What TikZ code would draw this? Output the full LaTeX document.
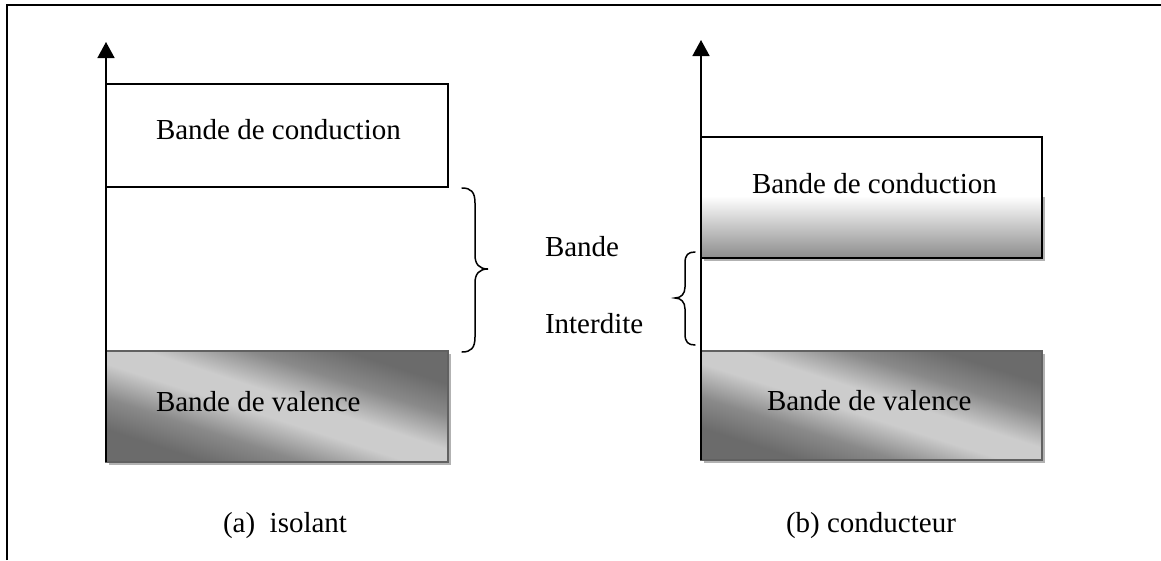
\documentclass[tikz,border=0pt]{standalone}
\usepackage{fontspec}
\setmainfont{Liberation Serif}
\usetikzlibrary{arrows.meta}
\pgfdeclareverticalshading{valsh}{100bp}{color(0bp)=(black!58); color(25bp)=(black!58); color(35bp)=(black!46); color(46bp)=(black!20); color(54bp)=(black!20); color(65bp)=(black!46); color(75bp)=(black!58); color(100bp)=(black!58)}
\begin{document}
\begin{tikzpicture}[x=1pt,y=-1pt,
  lbl/.style={font=\fontsize{29}{34}\selectfont, anchor=base west, inner sep=0pt, outer sep=0pt},
  frameline/.style={line width=1.6pt},
  axisarrow/.style={line width=1.6pt, -{Triangle[width=17pt,length=16pt]}},
  shadowbox/.style={fill=black!30, draw=none},
  whitebox/.style={draw=black, line width=1.6pt, fill=white, inner sep=0pt, outer sep=0pt},
  openbox/.style={draw=black, line width=1.6pt, inner sep=0pt, outer sep=0pt},
  valframe/.style={draw=black!62, line width=1.6pt, inner sep=0pt, outer sep=0pt},
  valshade/.style={shading=valsh, shading angle=-45},
  bracepath/.style={line width=1.5pt, line cap=round},
]
\useasboundingbox (0,0) rectangle (1161,560);
% outer frame
\draw[frameline] (7,560) -- (7,5) -- (1161,5);

% ---------- (a) isolant ----------
\node[whitebox, minimum width=342pt, minimum height=103pt] (cbA) at (277,135.5) {};
\fill[shadowbox] (109,354) rectangle (451,465);
\begin{scope}[transform canvas={shift={(277,406.5)}, xscale=3.081}]
  \shade[valshade] (-55.5,-55.5) rectangle (55.5,55.5);
\end{scope}
\node[valframe, minimum width=342pt, minimum height=111pt] (vbA) at (277,406.5) {};
\coordinate (axA0) at (106,462);
\coordinate (axA1) at (106,42);
\draw[axisarrow] (axA0) -- (axA1);
\node[lbl] (tcA) at (156,139) {Bande de conduction};
\node[lbl] (tvA) at (156,411) {Bande de valence};

% brace (a)
\coordinate (brAt) at (462,188);
\coordinate (brAm) at (488,269);
\coordinate (brAb) at (462,352);
\draw[bracepath] (brAt) .. controls (471,188) and (475,192) .. (475,203)
  -- (475,255) .. controls (475,264) and (479,269) .. (brAm)
  .. controls (479,269) and (475,274) .. (475,283)
  -- (475,337) .. controls (475,348) and (471,352) .. (brAb);

\node[lbl] (bande) at (545,256) {Bande};
\node[lbl] (interdite) at (545,333) {Interdite};

% ---------- (b) conducteur ----------
\fill[shadowbox] (704,197) rectangle (1045,261);
\fill[white] (701,137) rectangle (1042,258);
\shade[top color=white, bottom color=black!45] (701,196) rectangle (1042,258);
\node[openbox, minimum width=341pt, minimum height=121pt] (cbB) at (871.5,197.5) {};
\fill[shadowbox] (704,354) rectangle (1045,463);
\begin{scope}[transform canvas={shift={(871.5,405.5)}, xscale=3.128}]
  \shade[valshade] (-54.5,-54.5) rectangle (54.5,54.5);
\end{scope}
\node[valframe, minimum width=341pt, minimum height=109pt] (vbB) at (871.5,405.5) {};
\coordinate (axB0) at (701,460);
\coordinate (axB1) at (701,40);
\draw[axisarrow] (axB0) -- (axB1);
\node[lbl] (tcB) at (752,193) {Bande de conduction};
\node[lbl] (tvB) at (767,410) {Bande de valence};

% brace (b)
\coordinate (brBt) at (695,252);
\coordinate (brBm) at (675,298);
\coordinate (brBb) at (695,345);
\draw[bracepath] (brBt) .. controls (688,252) and (685,255) .. (685,263)
  -- (685,287) .. controls (685,294) and (681,298) .. (brBm)
  .. controls (681,298) and (685,302) .. (685,309)
  -- (685,334) .. controls (685,342) and (688,345) .. (brBb);

% captions
\node[lbl] (capA) at (223,532) {(a)\ \ isolant};
\node[lbl] (capB) at (786,532) {(b) conducteur};
\end{tikzpicture}
\end{document}
